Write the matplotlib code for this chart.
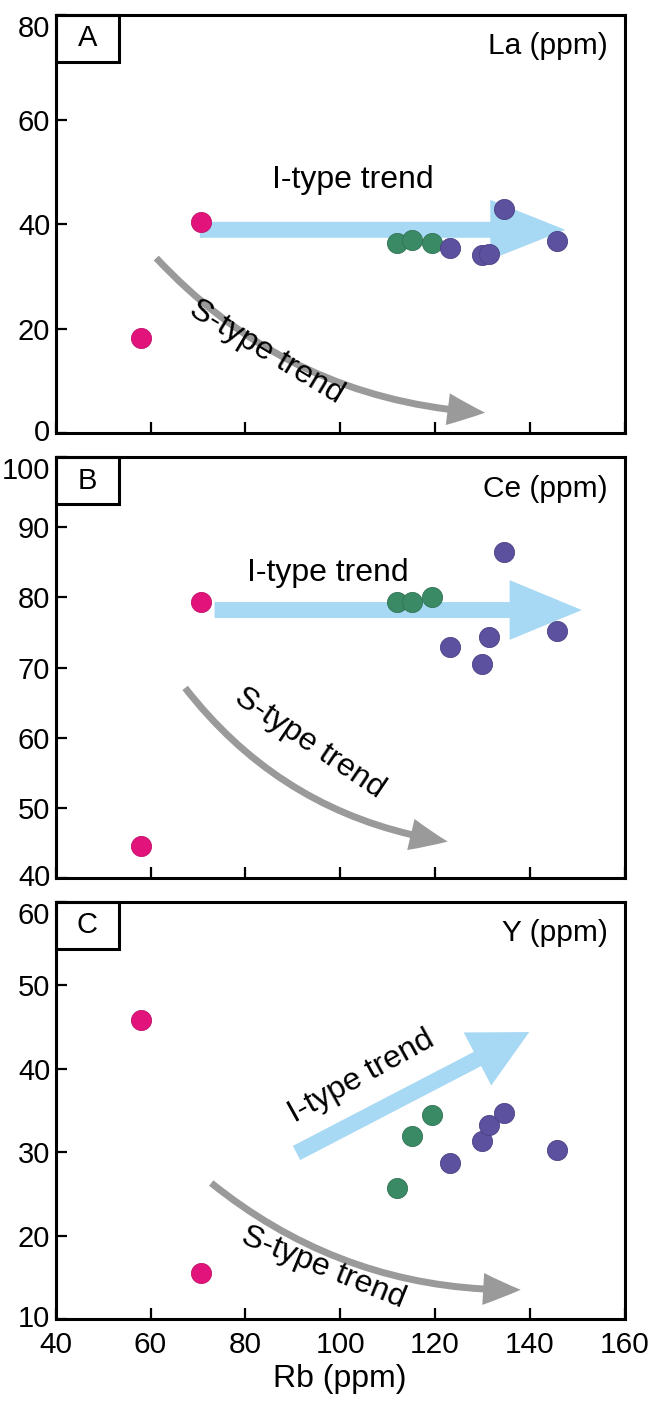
import matplotlib
matplotlib.use("Agg")
import matplotlib.pyplot as plt
from matplotlib.patches import FancyArrowPatch, Rectangle, ArrowStyle

plt.rcParams['font.family'] = ['Liberation Sans', 'DejaVu Sans']

# Rb (ppm) for each sample group
rb_pink = [58.0, 70.7]
rb_green = [111.9, 115.2, 119.4]
rb_purple = [123.1, 130.0, 131.5, 134.6, 145.7]

# La (ppm)
la_pink = [18.1, 40.4]
la_green = [36.4, 37.0, 36.4]
la_purple = [35.4, 34.0, 34.3, 42.9, 36.7]

# Ce (ppm)
ce_pink = [44.6, 79.4]
ce_green = [79.3, 79.3, 80.1]
ce_purple = [72.9, 70.5, 74.3, 86.5, 75.2]

# Y (ppm)
y_pink = [45.8, 15.5]
y_green = [25.7, 31.9, 34.4]
y_purple = [28.7, 31.3, 33.3, 34.7, 30.3]

x_ticks = [40, 60, 80, 100, 120, 140, 160]

PINK = '#e2147c'
GREEN = '#3b8a66'
PURPLE = '#5c519e'
BLUE = '#a7d8f4'
GREY = '#9a9a9a'

panels = [
    dict(tag='A', name='La (ppm)', ylim=(0, 80), yticks=[0, 20, 40, 60, 80],
         vals=(la_pink, la_green, la_purple),
         i_tail=(70.4, 38.9), i_tip=(147.5, 38.9), i_head=54,
         i_text=(102.7, 48.5), i_rot=0,
         s_tail=(61.2, 33.5), s_tip=(130.6, 3.9), s_rad=0.2,
         s_text=(84.5, 15.5), s_rot=-31,
         box=[0.085, 0.692, 0.867, 0.2973]),
    dict(tag='B', name='Ce (ppm)', ylim=(40, 100), yticks=[40, 50, 60, 70, 80, 90, 100],
         vals=(ce_pink, ce_green, ce_purple),
         i_tail=(73.5, 78.2), i_tip=(151.0, 78.2), i_head=52,
         i_text=(97.5, 83.5), i_rot=0,
         s_tail=(67.3, 67.1), s_tip=(122.7, 45.2), s_rad=0.2,
         s_text=(93.5, 59.2), s_rot=-34,
         box=[0.085, 0.3755, 0.867, 0.2994]),
    dict(tag='C', name='Y (ppm)', ylim=(10, 60), yticks=[10, 20, 30, 40, 50, 60],
         vals=(y_pink, y_green, y_purple),
         i_tail=(90.8, 29.9), i_tip=(139.9, 44.4), i_head=42,
         i_text=(104.5, 39.0), i_rot=29,
         s_tail=(72.8, 26.3), s_tip=(138.1, 13.5), s_rad=0.18,
         s_text=(96.4, 16.1), s_rot=-22,
         box=[0.085, 0.0619, 0.867, 0.2966]),
]

fig = plt.figure(figsize=(6.56, 14.06), dpi=100)

for i, p in enumerate(panels):
    ax = fig.add_axes(p['box'])
    ax.set_xlim(40, 160)
    ax.set_ylim(*p['ylim'])
    ax.set_xticks(x_ticks)
    ax.set_yticks(p['yticks'])
    for s in ax.spines.values():
        s.set_linewidth(2.2)
    ax.tick_params(axis='both', direction='in', length=8, width=1.6,
                   top=False, right=False)
    ax.tick_params(axis='y', labelsize=21, pad=4)
    ax.tick_params(axis='x', labelsize=21.5, pad=9)
    # top y label hangs below the top spine so stacked panels don't collide
    ylabels = ax.get_yticklabels()
    ylabels[-1].set_verticalalignment('top')
    ylabels[0].set_verticalalignment('center')
    if i < 2:
        ax.tick_params(axis='x', labelbottom=False)
    else:
        ax.set_xlabel('Rb (ppm)', fontsize=23, labelpad=3)

    # I-type trend arrow
    i_style = ArrowStyle.Simple(head_length=p['i_head'], head_width=43, tail_width=11.5)
    ax.add_patch(FancyArrowPatch(p['i_tail'], p['i_tip'], arrowstyle=i_style,
                                 mutation_scale=1, color=BLUE, lw=0,
                                 shrinkA=0, shrinkB=0, zorder=2))
    ax.text(*p['i_text'], 'I-type trend', fontsize=23, rotation=p['i_rot'],
            ha='center', va='center', rotation_mode='anchor', zorder=4)

    # S-type trend arrow
    s_style = ArrowStyle.Simple(head_length=27, head_width=23, tail_width=5)
    ax.add_patch(FancyArrowPatch(p['s_tail'], p['s_tip'], arrowstyle=s_style,
                                 connectionstyle=f"arc3,rad={p['s_rad']}",
                                 mutation_scale=1, color=GREY, lw=0,
                                 shrinkA=0, shrinkB=0, zorder=2))
    ax.text(*p['s_text'], 'S-type trend', fontsize=23, rotation=p['s_rot'],
            ha='center', va='center', rotation_mode='anchor', zorder=4)

    # sample points
    pink, green, purple = p['vals']
    ax.scatter(rb_pink, pink, s=210, c=PINK, edgecolors='#c0106a', linewidths=0.6, zorder=5)
    ax.scatter(rb_green, green, s=210, c=GREEN, edgecolors='#2f7355', linewidths=0.6, zorder=5)
    ax.scatter(rb_purple, purple, s=210, c=PURPLE, edgecolors='#4a4185', linewidths=0.6, zorder=5)

    # panel letter box and element label
    ax.add_patch(Rectangle((0, 1 - 0.112), 0.111, 0.112, transform=ax.transAxes,
                           fill=False, lw=2.2, ec='black', clip_on=False, zorder=6))
    ax.text(0.0555, 1 - 0.056, p['tag'], transform=ax.transAxes, fontsize=21,
            ha='center', va='center', zorder=6)
    ax.text(0.97, 0.925, p['name'], transform=ax.transAxes, fontsize=21.5,
            ha='right', va='center', zorder=6)

fig.savefig('out.png', dpi=100)
